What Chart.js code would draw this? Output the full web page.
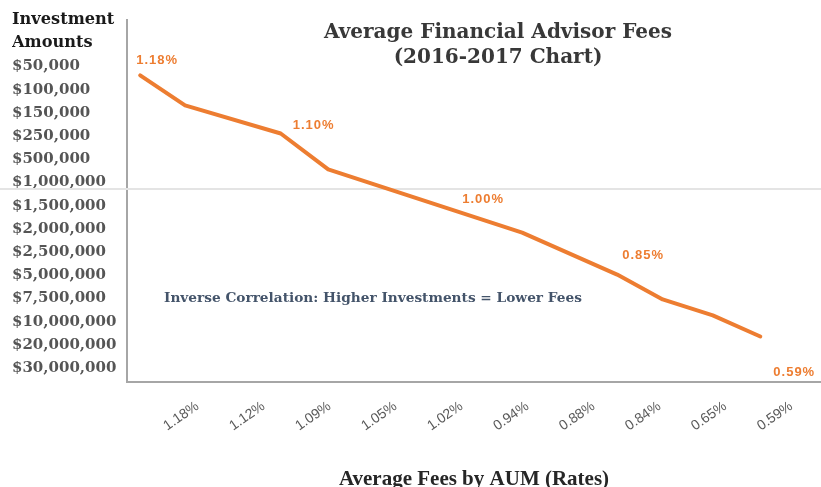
<!DOCTYPE html>
<html>
<head>
<meta charset="utf-8">
<title>Average Financial Advisor Fees</title>
<script src="https://cdn.jsdelivr.net/npm/chart.js@4"></script>
<style>
  html, body { margin: 0; padding: 0; overflow: hidden; background: #fff; }
  #wrap { width: 821px; height: 497px; }
</style>
</head>
<body>
<div id="wrap"><canvas id="myChart"></canvas></div>
<script>
// y axis: heading lines + investment amount tiers (tier 0 = $50,000)
const amountHeader = ['Investment', 'Amounts'];
const amounts = ['$50,000', '$100,000', '$150,000', '$250,000', '$500,000', '$1,000,000',
    '$1,500,000', '$2,000,000', '$2,500,000', '$5,000,000', '$7,500,000', '$10,000,000',
    '$20,000,000', '$30,000,000'];

// x axis: fee rates
const feeLabels = ['1.18%', '1.12%', '1.09%', '1.05%', '1.02%', '0.94%', '0.88%', '0.84%', '0.65%', '0.59%'];

// the line: x in fee-label steps (1 = first label), y in amount tiers
const lineX = [0.13, 0.81, 2.26, 2.98, 5.92, 7.36, 8.05, 8.81, 9.53];
const lineY = [0.39, 1.68, 2.89, 4.44, 7.16, 8.97, 10.04, 10.73, 11.64];
const pointLabels = ['1.18%', null, '1.10%', null, '1.00%', '0.85%', null, null, '0.59%'];

const ORANGE = '#ED7D31';

// where each data label sits relative to its point
const labelOffsets = { 0: [-4, -15], 2: [12, -8], 4: [-60, -33], 5: [5, -19], 8: [13, 36] };

const extras = {
    id: 'extras',
    beforeDatasetsDraw(chart) {
        const { ctx, scales: { y } } = chart;
        // faint rule just under the $1,000,000 row
        const ry = Math.round(y.getPixelForValue(5.3));
        ctx.save();
        ctx.strokeStyle = '#e4e4e4';
        ctx.lineWidth = 2;
        ctx.beginPath();
        ctx.moveTo(0, ry);
        ctx.lineTo(chart.width, ry);
        ctx.stroke();
        ctx.restore();
    },
    afterDatasetsDraw(chart) {
        const { ctx } = chart;
        const pts = chart.getDatasetMeta(0).data;
        ctx.save();
        ctx.textBaseline = 'middle';

        ctx.font = 'bold 13px "Liberation Sans", Arial, sans-serif';
        ctx.letterSpacing = '1px';
        ctx.fillStyle = ORANGE;
        ctx.textAlign = 'left';
        pointLabels.forEach((t, i) => {
            if (!t) return;
            const [dx, dy] = labelOffsets[i];
            ctx.fillText(t, pts[i].x + dx, pts[i].y + dy);
        });
        ctx.letterSpacing = '0px';

        ctx.textAlign = 'center';
        ctx.fillStyle = '#383838';
        ctx.font = 'bold 20px "DejaVu Serif", Georgia, serif';
        ctx.fillText('Average Financial Advisor Fees', 498, 33);
        ctx.fillText('(2016-2017 Chart)', 498, 58);

        ctx.textAlign = 'left';
        ctx.fillStyle = '#44546A';
        ctx.font = 'bold 13.7px "DejaVu Serif", Georgia, serif';
        ctx.fillText('Inverse Correlation: Higher Investments = Lower Fees', 164, 298);
        ctx.restore();
    }
};

const ctx = document.getElementById('myChart').getContext('2d');
const myChart = new Chart(ctx, {
    type: 'line',
    data: {
        datasets: [{
            label: 'Average fee',
            data: lineX.map((x, i) => ({ x: x, y: lineY[i] })),
            borderColor: ORANGE,
            backgroundColor: ORANGE,
            borderWidth: 4,
            borderCapStyle: 'round',
            borderJoinStyle: 'round',
            pointRadius: 0,
            tension: 0,
            fill: false
        }]
    },
    options: {
        responsive: true,
        maintainAspectRatio: false,
        animation: false,
        layout: { padding: { left: 12, top: 20, right: 0, bottom: 0 } },
        plugins: { legend: { display: false }, tooltip: { enabled: false } },
        scales: {
            x: {
                type: 'linear',
                min: -0.07,
                max: 10.45,
                grid: { display: false, drawTicks: false },
                border: { display: true, color: '#a6a6a6', width: 2 },
                afterBuildTicks: s => { s.ticks = feeLabels.map((_, i) => ({ value: i + 1 })); },
                afterFit: s => { s.height = 115; },
                ticks: {
                    autoSkip: false,
                    minRotation: 35,
                    maxRotation: 35,
                    padding: 16,
                    color: '#595959',
                    font: { family: '"Liberation Sans", Arial, sans-serif', size: 14 },
                    callback: v => feeLabels[v - 1]
                },
                title: {
                    display: true,
                    text: 'Average Fees by AUM (Rates)',
                    color: '#262626',
                    font: { family: '"Liberation Serif", "Times New Roman", serif', size: 21, weight: 'bold' },
                    padding: { top: 0, bottom: 5 }
                }
            },
            y: {
                type: 'linear',
                reverse: true,
                min: -2,
                max: 13.6,
                grid: { display: false, drawTicks: false },
                border: { display: true, color: '#a6a6a6', width: 2 },
                afterBuildTicks: s => {
                    s.ticks = amountHeader.concat(amounts).map((_, i) => ({ value: i - 2 }));
                },
                afterFit: s => { s.width = 115; },
                ticks: {
                    autoSkip: false,
                    crossAlign: 'far',
                    padding: 0,
                    color: c => (c.tick && c.tick.value < 0 ? '#1a1a1a' : '#555555'),
                    font: c => ({
                        family: '"DejaVu Serif", Georgia, serif',
                        size: c.tick && c.tick.value < 0 ? 16.2 : 15,
                        weight: 'bold'
                    }),
                    callback: v => (v < 0 ? amountHeader[v + 2] : amounts[v])
                }
            }
        }
    },
    plugins: [extras]
});
</script>
</body>
</html>
